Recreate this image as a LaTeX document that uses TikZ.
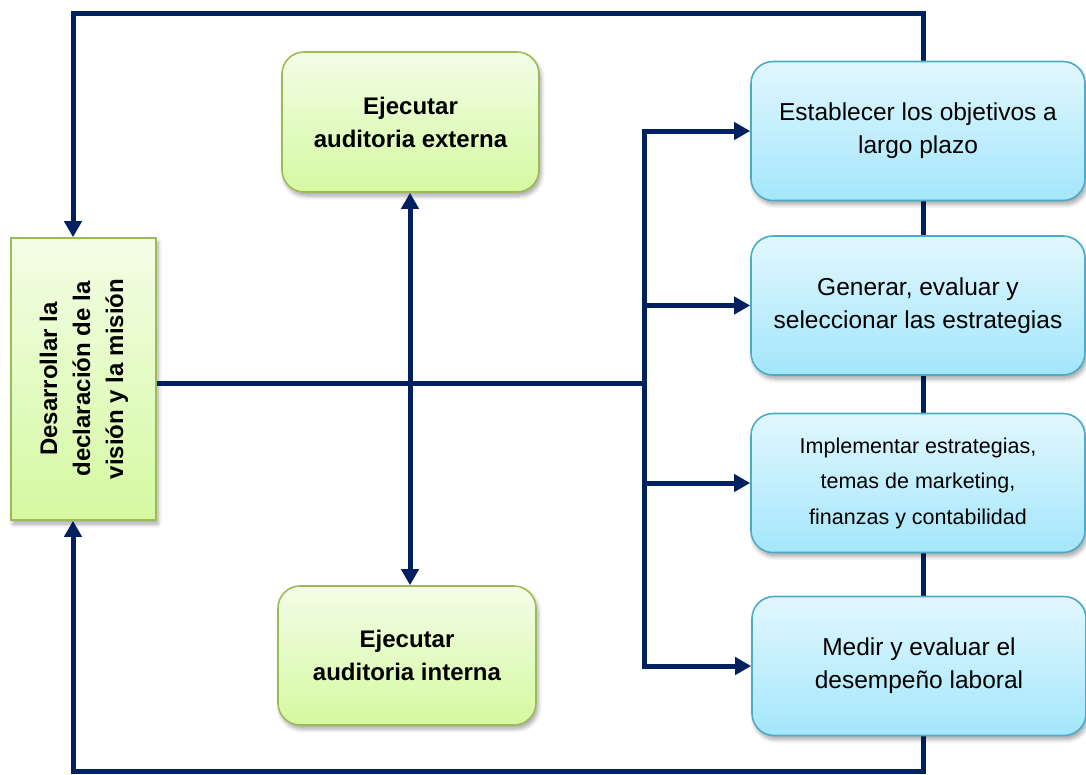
\documentclass[tikz,border=0pt]{standalone}
\usepackage{fontspec}
\setmainfont{Liberation Sans}
\usetikzlibrary{arrows.meta,shadows.blur,backgrounds}

\definecolor{navy}{HTML}{002060}
\definecolor{gborder}{HTML}{9BBB59}
\definecolor{gtop}{HTML}{F3FDE6}
\definecolor{gbot}{HTML}{D5F9A1}
\definecolor{bborder}{HTML}{4BACC6}
\definecolor{btop}{HTML}{E2F7FE}
\definecolor{bbot}{HTML}{A3E6FB}

\tikzset{
  flow/.style={draw=navy, line width=5pt, line join=miter},
  tip/.tip={Triangle[length=16pt,width=17pt]},
  softshadow/.style={blur shadow={shadow xshift=2pt, shadow yshift=-4pt,
      shadow blur radius=4pt, shadow blur steps=6, shadow opacity=35}},
  greenbox/.style={draw=gborder, line width=1.6pt, top color=gtop, bottom color=gbot,
      softshadow, inner sep=0pt, align=center,
      font=\bfseries\fontsize{24}{33}\selectfont},
  bluebox/.style={draw=bborder, line width=1.6pt, top color=btop, bottom color=bbot,
      rounded corners=22pt, softshadow, inner sep=0pt, align=center,
      minimum width=334pt, minimum height=139pt,
      font=\fontsize{24.5}{33}\selectfont},
}

\begin{document}
\begin{tikzpicture}[x=1pt, y=-1pt]
\useasboundingbox (0,0) rectangle (1086,774);

% mission and vision
\node[greenbox, minimum width=145pt, minimum height=282pt] (L) at (83.5,379)
  {\rotatebox{90}{\begin{tabular}{@{}c@{}}Desarrollar la\\declaración de la\\visión y la misión\end{tabular}}};

% audits
\node[greenbox, rounded corners=22pt, minimum width=257pt, minimum height=140pt] (E) at (410.5,122)
  {Ejecutar\\auditoria externa};
\node[greenbox, rounded corners=22pt, minimum width=258pt, minimum height=139pt] (I) at (407,655.5)
  {Ejecutar\\auditoria interna};

% strategy steps
\node[bluebox] (B1) at (918,131) {Establecer los objetivos a\\largo plazo};
\node[bluebox] (B2) at (918,305.5) {Generar, evaluar y\\seleccionar las estrategias};
\node[bluebox, font=\fontsize{21.5}{35.5}\selectfont] (B3) at (918,483)
  {Implementar estrategias,\\temas de marketing,\\finanzas y contabilidad};
\node[bluebox] (B4) at (919,666) {Medir y evaluar el\\desempeño laboral};

% routing points
\coordinate (tl) at (73,13);
\coordinate (tr) at (923,13);
\coordinate (br) at (923,771);
\coordinate (bl) at (73,771);
\coordinate (hub) at (644,383);
\coordinate (vx) at (410,383);

% feedback loop running behind the boxes
\begin{scope}[on background layer]
\draw[flow, tip-tip] (tl |- L.north) -- (tl) -- (tr) -- (br) -- (bl) -- (bl |- L.south);
\end{scope}

% main connectors
\draw[flow] (L.east |- hub) -- (hub);
\draw[flow, tip-tip] (E.south -| vx) -- (I.north -| vx);
\draw[flow, tip-tip] (B1.west) -- (hub |- B1.west) -- (hub |- B4.west) -- (B4.west);
\draw[flow, -tip] (hub |- B2.west) -- (B2.west);
\draw[flow, -tip] (hub |- B3.west) -- (B3.west);
\end{tikzpicture}
\end{document}
